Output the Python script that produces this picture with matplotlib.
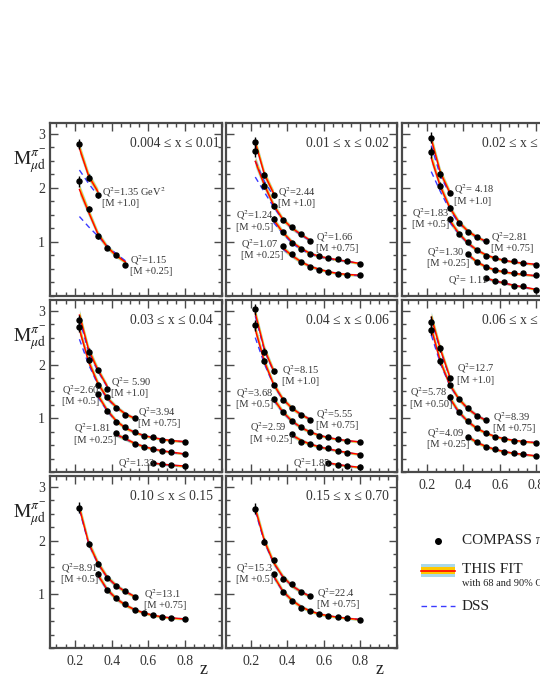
import matplotlib
matplotlib.use("Agg")
import matplotlib.pyplot as plt
import numpy as np
from matplotlib.ticker import FixedLocator, MultipleLocator

# ---------------- DATA ----------------
Z_BINS = [0.225, 0.275, 0.325, 0.375, 0.425, 0.475, 0.525, 0.575, 0.625, 0.675, 0.725, 0.80]
ERR_BY_Z = [0.10, 0.06, 0.045, 0.03, 0.02, 0.02, 0.015, 0.015, 0.01, 0.01, 0.01, 0.01]
BAND68 = [0.07, 0.055, 0.045, 0.036, 0.03, 0.026, 0.022, 0.02, 0.018, 0.017, 0.016, 0.016]
BAND90 = [0.105, 0.083, 0.068, 0.055, 0.046, 0.04, 0.034, 0.031, 0.028, 0.026, 0.025, 0.025]

X_BIN_LABELS = ["0.004 \u2264 x \u2264 0.01", "0.01 \u2264 x \u2264 0.02", "0.02 \u2264 x \u2264 0.03",
                "0.03 \u2264 x \u2264 0.04", "0.04 \u2264 x \u2264 0.06", "0.06 \u2264 x \u2264 0.10",
                "0.10 \u2264 x \u2264 0.15", "0.15 \u2264 x \u2264 0.70"]

# panel 1 : 0.004 < x < 0.01
p1_shift = [1.0, 0.25]
p1_start = [0, 0]
p1_m = [[1.81, 1.19, 0.86], [1.87, 1.36, 0.855, 0.63, 0.50, 0.33]]
p1_fit = [[1.73, 1.22, 0.93], [1.72, 1.30, 0.90, 0.66, 0.50, 0.38]]
p1_dss = [[1.33, 1.08, 0.86], [1.22, 1.03, 0.86, 0.68, 0.53, 0.40]]
p1_lab = ["Q$^2$=1.35 GeV$^2$\n[M +1.0]", "Q$^2$=1.15\n[M +0.25]"]

# panel 2 : 0.01 < x < 0.02
p2_shift = [1.0, 0.75, 0.5, 0.25]
p2_start = [0, 0, 2, 3]
p2_m = [[1.85, 1.24, 0.86],
        [1.93, 1.29, 0.91, 0.66, 0.52, 0.39, 0.275],
        [0.93, 0.68, 0.48, 0.37, 0.28, 0.235, 0.20, 0.185, 0.155, 0.10],
        [0.67, 0.53, 0.37, 0.29, 0.24, 0.19, 0.165, 0.145, 0.13]]
p2_fit = [[1.84, 1.25, 0.90],
          [1.74, 1.30, 0.93, 0.67, 0.51, 0.39, 0.28],
          [0.91, 0.68, 0.50, 0.38, 0.29, 0.235, 0.20, 0.17, 0.145, 0.10],
          [0.64, 0.50, 0.385, 0.30, 0.245, 0.20, 0.17, 0.15, 0.135]]
p2_dss = [[1.50, 1.12, 0.85],
          [1.45, 1.17, 0.90, 0.66, 0.50, 0.38, 0.27],
          [0.86, 0.66, 0.48, 0.36, 0.28, 0.22, 0.19, 0.16, 0.14, 0.10],
          [0.62, 0.49, 0.38, 0.29, 0.23, 0.19, 0.16, 0.14, 0.125]]
p2_lab = ["Q$^2$=2.44\n[M +1.0]", "Q$^2$=1.66\n[M +0.75]", "Q$^2$=1.24\n[M +0.5]", "Q$^2$=1.07\n[M +0.25]"]

# panel 3 : 0.02 < x < 0.03
p3_shift = [1.0, 0.75, 0.5, 0.25, 0.0]
p3_start = [0, 0, 2, 4, 6]
p3_m = [[1.93, 1.25, 0.91],
        [1.91, 1.29, 0.88, 0.60, 0.43, 0.34, 0.26],
        [0.93, 0.65, 0.49, 0.35, 0.235, 0.20, 0.16, 0.14, 0.11, 0.08],
        [0.53, 0.37, 0.29, 0.225, 0.21, 0.18, 0.175, 0.13],
        [0.33, 0.27, 0.25, 0.19, 0.18, 0.12]]
p3_fit = [[1.90, 1.28, 0.92],
          [1.80, 1.27, 0.89, 0.62, 0.45, 0.34, 0.26],
          [0.90, 0.66, 0.48, 0.35, 0.26, 0.20, 0.16, 0.13, 0.11, 0.085],
          [0.52, 0.38, 0.29, 0.23, 0.195, 0.17, 0.15, 0.125],
          [0.33, 0.28, 0.24, 0.20, 0.17, 0.12]]
p3_dss = [[1.78, 1.22, 0.90],
          [1.55, 1.18, 0.85, 0.60, 0.44, 0.33, 0.25],
          [0.87, 0.65, 0.47, 0.34, 0.25, 0.19, 0.15, 0.125, 0.10, 0.08],
          [0.51, 0.37, 0.28, 0.22, 0.19, 0.165, 0.145, 0.12],
          [0.32, 0.27, 0.235, 0.195, 0.165, 0.115]]
p3_lab = ["Q$^2$= 4.18\n[M +1.0]", "Q$^2$=2.81\n[M +0.75]", "Q$^2$=1.83\n[M +0.5]", "Q$^2$=1.30\n[M +0.25]", "Q$^2$= 1.11"]

# panel 4 : 0.03 < x < 0.04
p4_shift = [1.0, 0.75, 0.5, 0.25, 0.0]
p4_start = [0, 0, 2, 4, 8]
p4_m = [[1.83, 1.24, 0.89, 0.54],
        [1.95, 1.34, 0.86, 0.64, 0.45, 0.31, 0.25],
        [0.95, 0.64, 0.43, 0.33, 0.25, 0.17, 0.16, 0.10, 0.085, 0.065],
        [0.47, 0.40, 0.27, 0.22, 0.18, 0.15, 0.13, 0.08],
        [0.17, 0.14, 0.13, 0.11]]
p4_fit = [[1.92, 1.27, 0.90, 0.60],
          [1.90, 1.30, 0.90, 0.63, 0.46, 0.33, 0.25],
          [0.93, 0.65, 0.45, 0.32, 0.24, 0.18, 0.14, 0.11, 0.085, 0.065],
          [0.45, 0.37, 0.285, 0.225, 0.18, 0.145, 0.12, 0.085],
          [0.17, 0.145, 0.13, 0.11]]
p4_dss = [[1.85, 1.23, 0.88, 0.59],
          [1.72, 1.25, 0.88, 0.62, 0.45, 0.33, 0.25],
          [0.90, 0.64, 0.44, 0.32, 0.235, 0.175, 0.135, 0.105, 0.08, 0.06],
          [0.44, 0.36, 0.28, 0.22, 0.175, 0.14, 0.115, 0.08],
          [0.165, 0.14, 0.125, 0.105]]
p4_lab = ["Q$^2$= 5.90\n[M +1.0]", "Q$^2$=3.94\n[M +0.75]", "Q$^2$=2.60\n[M +0.5]", "Q$^2$=1.81\n[M +0.25]", "Q$^2$=1.33"]

# panel 5 : 0.04 < x < 0.06
p5_shift = [1.0, 0.75, 0.5, 0.25, 0.0]
p5_start = [0, 0, 2, 4, 8]
p5_m = [[2.03, 1.24, 0.87],
        [1.98, 1.32, 0.87, 0.59, 0.45, 0.31, 0.22],
        [0.85, 0.62, 0.44, 0.33, 0.25, 0.17, 0.15, 0.11, 0.085, 0.055],
        [0.46, 0.315, 0.27, 0.22, 0.19, 0.15, 0.11, 0.07],
        [0.17, 0.13, 0.11, 0.09]]
p5_fit = [[1.95, 1.28, 0.88],
          [1.90, 1.30, 0.88, 0.61, 0.44, 0.32, 0.23],
          [0.86, 0.62, 0.45, 0.33, 0.245, 0.185, 0.14, 0.11, 0.085, 0.06],
          [0.44, 0.34, 0.27, 0.22, 0.18, 0.145, 0.115, 0.075],
          [0.17, 0.14, 0.115, 0.085]]
p5_dss = [[1.90, 1.26, 0.87],
          [1.75, 1.26, 0.87, 0.60, 0.44, 0.32, 0.23],
          [0.84, 0.61, 0.44, 0.325, 0.24, 0.18, 0.135, 0.105, 0.08, 0.055],
          [0.43, 0.335, 0.265, 0.215, 0.175, 0.14, 0.11, 0.07],
          [0.165, 0.135, 0.11, 0.08]]
p5_lab = ["Q$^2$=8.15\n[M +1.0]", "Q$^2$=5.55\n[M +0.75]", "Q$^2$=3.68\n[M +0.5]", "Q$^2$=2.59\n[M +0.25]", "Q$^2$=1.85"]

# panel 6 : 0.06 < x < 0.10
p6_shift = [1.0, 0.75, 0.5, 0.25]
p6_start = [0, 0, 2, 4]
p6_m = [[1.80, 1.30, 0.74],
        [1.90, 1.31, 0.87, 0.60, 0.44, 0.29, 0.21],
        [0.90, 0.61, 0.44, 0.31, 0.22, 0.16, 0.11, 0.085, 0.065, 0.047],
        [0.41, 0.30, 0.22, 0.17, 0.13, 0.10, 0.08, 0.05]]
p6_fit = [[1.88, 1.28, 0.78],
          [1.92, 1.30, 0.88, 0.61, 0.43, 0.30, 0.21],
          [0.88, 0.62, 0.44, 0.31, 0.225, 0.16, 0.12, 0.09, 0.07, 0.045],
          [0.41, 0.30, 0.225, 0.17, 0.13, 0.10, 0.08, 0.05]]
p6_dss = [[1.84, 1.26, 0.77],
          [1.80, 1.27, 0.87, 0.60, 0.43, 0.30, 0.21],
          [0.86, 0.61, 0.435, 0.305, 0.22, 0.155, 0.115, 0.085, 0.065, 0.045],
          [0.40, 0.295, 0.22, 0.165, 0.125, 0.095, 0.075, 0.047]]
p6_lab = ["Q$^2$=12.7\n[M +1.0]", "Q$^2$=8.39\n[M +0.75]", "Q$^2$=5.78\n[M +0.50]", "Q$^2$=4.09\n[M +0.25]"]

# panel 7 : 0.10 < x < 0.15
p7_shift = [0.75, 0.5]
p7_start = [0, 2]
p7_m = [[1.86, 1.18, 0.82, 0.56, 0.405, 0.31, 0.20],
        [0.88, 0.58, 0.43, 0.31, 0.21, 0.15, 0.11, 0.085, 0.055, 0.035]]
p7_fit = [[1.85, 1.20, 0.83, 0.57, 0.41, 0.30, 0.21],
          [0.86, 0.59, 0.42, 0.30, 0.215, 0.155, 0.11, 0.08, 0.06, 0.04]]
p7_dss = [[1.82, 1.19, 0.82, 0.565, 0.405, 0.30, 0.21],
          [0.85, 0.585, 0.415, 0.30, 0.21, 0.15, 0.11, 0.08, 0.06, 0.04]]
p7_lab = ["Q$^2$=13.1\n[M +0.75]", "Q$^2$=8.91\n[M +0.5]"]

# panel 8 : 0.15 < x < 0.70
p8_shift = [0.75, 0.5]
p8_start = [0, 2]
p8_m = [[1.84, 1.23, 0.88, 0.53, 0.45, 0.30, 0.21],
        [0.87, 0.54, 0.38, 0.25, 0.18, 0.13, 0.10, 0.08, 0.05, 0.025]]
p8_fit = [[1.84, 1.24, 0.84, 0.58, 0.41, 0.30, 0.21],
          [0.84, 0.56, 0.39, 0.27, 0.19, 0.135, 0.10, 0.075, 0.055, 0.03]]
p8_dss = [[1.80, 1.22, 0.83, 0.575, 0.405, 0.30, 0.21],
          [0.83, 0.555, 0.385, 0.265, 0.185, 0.13, 0.10, 0.075, 0.05, 0.03]]
p8_lab = ["Q$^2$=22.4\n[M +0.75]", "Q$^2$=15.3\n[M +0.5]"]

# ---------------- LAYOUT (label anchor positions, data coords) ----------------
p1_lpos = [(0.345, 2.05), (0.50, 0.80)]
p2_lpos = [(0.351, 2.05), (0.555, 1.22), (0.122, 1.62), (0.149, 1.09)]
p3_lpos = [(0.348, 2.10), (0.551, 1.22), (0.122, 1.67), (0.202, 0.94), (0.315, 0.42)]
p4_lpos = [(0.398, 1.81), (0.546, 1.25), (0.128, 1.66), (0.194, 0.94), (0.432, 0.29)]
p5_lpos = [(0.369, 2.03), (0.555, 1.21), (0.117, 1.60), (0.198, 0.96), (0.429, 0.29)]
p6_lpos = [(0.366, 2.06), (0.564, 1.16), (0.108, 1.61), (0.202, 0.86)]
p7_lpos = [(0.575, 1.14), (0.124, 1.62)]
p8_lpos = [(0.562, 1.16), (0.122, 1.62)]

PANELS = [
    (p1_shift, p1_start, p1_m, p1_fit, p1_dss, p1_lab, p1_lpos),
    (p2_shift, p2_start, p2_m, p2_fit, p2_dss, p2_lab, p2_lpos),
    (p3_shift, p3_start, p3_m, p3_fit, p3_dss, p3_lab, p3_lpos),
    (p4_shift, p4_start, p4_m, p4_fit, p4_dss, p4_lab, p4_lpos),
    (p5_shift, p5_start, p5_m, p5_fit, p5_dss, p5_lab, p5_lpos),
    (p6_shift, p6_start, p6_m, p6_fit, p6_dss, p6_lab, p6_lpos),
    (p7_shift, p7_start, p7_m, p7_fit, p7_dss, p7_lab, p7_lpos),
    (p8_shift, p8_start, p8_m, p8_fit, p8_dss, p8_lab, p8_lpos),
]

# ---------------- STYLE ----------------
plt.rcParams['font.family'] = ['Liberation Serif', 'DejaVu Serif']
plt.rcParams['mathtext.fontset'] = 'stix'

W, H = 540, 699
COLS = [(50, 222), (226, 397), (402, 573)]
ROWS = [(123, 296), (300, 472), (476, 648)]
POS = [(0, 0), (0, 1), (0, 2), (1, 0), (1, 1), (1, 2), (2, 0), (2, 1)]
FRAME = '#4a4a4a'
YELLOW = '#ffc800'
LBLUE = '#a9d8ea'
DSS_C = '#3a3aff'
TXT = '#333333'

fig = plt.figure(figsize=(W / 100, H / 100), dpi=100)


def rect(x0, x1, y0, y1):
    return [x0 / W, 1 - y1 / H, (x1 - x0) / W, (y1 - y0) / H]


Z = np.array(Z_BINS)
for k, (shift, start, mvals, fits, dss, labs, lpos) in enumerate(PANELS):
    r, c = POS[k]
    ax = fig.add_axes(rect(COLS[c][0], COLS[c][1], ROWS[r][0], ROWS[r][1]))
    ax.set_xlim(0.065, 1.0)
    ax.set_ylim(0, 3.2)
    for s in range(len(shift)):
        n = len(mvals[s])
        sl = slice(start[s], start[s] + n)
        z = Z[sl]
        f = np.array(fits[s]) + shift[s]
        b68 = np.array(BAND68[sl])
        b90 = np.array(BAND90[sl])
        ax.fill_between(z, f - b90, f + b90, color=LBLUE, lw=0, zorder=2)
        ax.fill_between(z, f - b68, f + b68, color=YELLOW, lw=0, zorder=3)
        ax.plot(z, np.array(dss[s]) + shift[s], color=DSS_C, lw=1.0,
                ls=(0, (4, 3)), zorder=4)
        ax.plot(z, f, color='red', lw=1.0, zorder=5)
        ax.errorbar(z, np.array(mvals[s]) + shift[s], yerr=np.array(ERR_BY_Z[sl]),
                    fmt='o', color='black', ms=3.6, elinewidth=1.0, capsize=0, zorder=6)
        ax.text(lpos[s][0], lpos[s][1], labs[s], fontsize=7.5, color=TXT,
                ha='left', va='top', linespacing=1.05, zorder=7)
    ax.text(0.467, 0.88, X_BIN_LABELS[k], transform=ax.transAxes, fontsize=9.8,
            color=TXT, ha='left', va='center')

    ax.xaxis.set_major_locator(FixedLocator([0.2, 0.4, 0.6, 0.8]))
    ax.xaxis.set_minor_locator(MultipleLocator(0.05))
    ax.yaxis.set_major_locator(FixedLocator([1, 2, 3]))
    ax.yaxis.set_minor_locator(MultipleLocator(0.25))
    ax.tick_params(which='both', direction='in', top=True, right=True,
                   color=FRAME, width=1.0, labelsize=10, labelcolor=TXT)
    ax.tick_params(which='major', length=6)
    ax.tick_params(which='minor', length=3)
    for sp in ax.spines.values():
        sp.set_linewidth(1.6)
        sp.set_color(FRAME)
    if c != 0:
        ax.set_yticklabels([])
    if not (r == 2 or (r == 1 and c == 2)):
        ax.set_xticklabels([])
    ax.tick_params(axis='x', pad=5)

# y labels for each row
for r in range(3):
    fig.text(13 / W, 1 - (ROWS[r][0] + 42) / H, r'$\mathrm{M}^{\pi^{-}}_{\mu\mathrm{d}}$',
             fontsize=14, color='#222222', ha='left', va='baseline')

# z labels
for xc in (204, 380):
    fig.text(xc / W, 1 - 674 / H, 'z', fontsize=13, color='#222222', ha='center', va='baseline')

# ---------------- LEGEND (pixel coordinates overlay) ----------------
lg = fig.add_axes([0, 0, 1, 1])
lg.set_xlim(0, W)
lg.set_ylim(H, 0)
lg.axis('off')
lg.plot([438], [541], 'o', color='black', ms=4)
lg.text(462, 541, 'COMPASS \u03c0\u207b', fontsize=11, color='#222222', va='center', ha='left')
lg.fill_between([421, 455], [564.3, 564.3], [576.7, 576.7], color=LBLUE, lw=0)
lg.fill_between([421, 455], [566.7, 566.7], [574.3, 574.3], color=YELLOW, lw=0)
lg.plot([421, 455], [570.5, 570.5], color='red', lw=1.2)
lg.text(462, 569.5, 'THIS FIT', fontsize=11, color='#222222', va='center', ha='left')
lg.text(462, 583, 'with 68 and 90% C.L.', fontsize=7.5, color='#222222', va='center', ha='left')
lg.plot([421, 455], [605.5, 605.5], color=DSS_C, lw=1.0, ls=(0, (4, 3)))
lg.text(462, 606, 'DSS', fontsize=11, color='#222222', va='center', ha='left')

fig.savefig('out.png', dpi=100)
